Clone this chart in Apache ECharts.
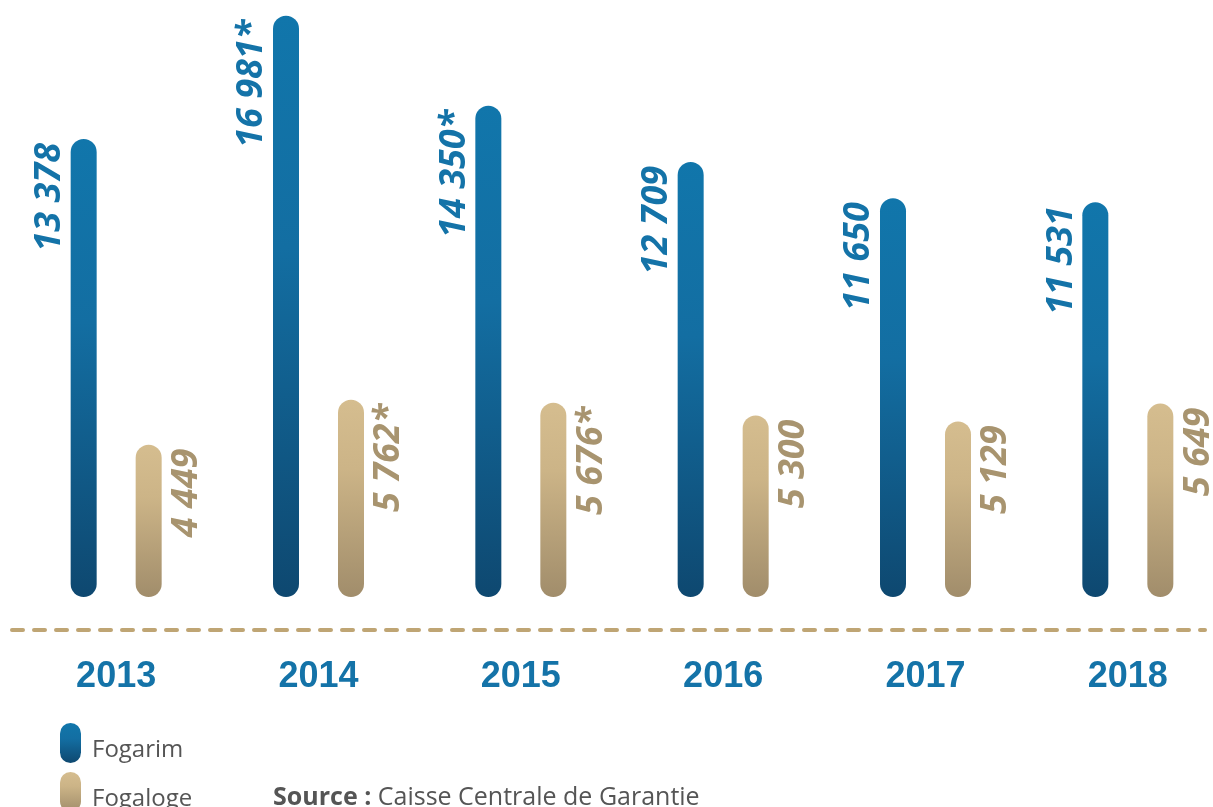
<!DOCTYPE html>
<html>
<head>
<meta charset="utf-8">
<script src="https://cdn.jsdelivr.net/npm/echarts@6/dist/echarts.min.js"></script>
<style>
html,body{margin:0;padding:0;background:#fff;}
#c{width:1213px;height:807px;}
</style>
</head>
<body>
<div id="c"></div>
<script>
const years = ['2013', '2014', '2015', '2016', '2017', '2018'];
const fogarim = [13378, 16981, 14350, 12709, 11650, 11531];
const fogaloge = [4449, 5762, 5676, 5300, 5129, 5649];
const fogarimNotes = ['', '*', '*', '', '', ''];
const fogalogeNotes = ['', '*', '*', '', '', ''];
const seriesNames = ['Fogarim', 'Fogaloge'];
const sourceLabel = 'Source :';
const sourceText = ' Caisse Centrale de Garantie';

const BLUE = '#1473A8';
const GOLD = '#A8946F';
const fmt = v => String(v).replace(/\B(?=(\d{3})+(?!\d))/g, ' ');

const blueGrad = new echarts.graphic.LinearGradient(0, 0, 0, 1, [
  {offset: 0, color: '#1176AB'},
  {offset: 0.4, color: '#136EA2'},
  {offset: 1, color: '#0E4870'}
]);
const goldGrad = new echarts.graphic.LinearGradient(0, 0, 0, 1, [
  {offset: 0, color: '#D5BD8F'},
  {offset: 0.35, color: '#CCB487'},
  {offset: 1, color: '#A18D6B'}
]);

const chart = echarts.init(document.getElementById('c'), null, {renderer: 'canvas'});
const pill = 'path://M0,10.5A10.5,10.5,0,0,1,21,10.5L21,29.5A10.5,10.5,0,0,1,0,29.5Z';
const legendBase = {
  orient: 'vertical',
  itemWidth: 21, itemHeight: 40, itemGap: 9,
  icon: pill,
  formatter: '{a|{name}}',
  textStyle: {
    color: '#555555', fontSize: 24, fontFamily: 'Open Sans',
    rich: {a: {color: '#555555', fontSize: 24, fontFamily: 'Open Sans', padding: [14, 0, 0, 6]}}
  }
};

chart.setOption({
  animation: false,
  backgroundColor: '#ffffff',
  grid: {left: 15, width: 1214, top: 15, height: 582, containLabel: false, outerBoundsMode: 'none'},
  legend: [
    Object.assign({left: 55, top: 718, data: [seriesNames[0]]}, legendBase),
    Object.assign({left: 55, top: 767, data: [seriesNames[1]]}, legendBase)
  ],
  title: {
    left: 268, top: 780,
    text: '{b|' + sourceLabel + '}{r|' + sourceText + '}',
    textStyle: {
      rich: {
        b: {fontFamily: 'Open Sans', fontWeight: 'bold', fontSize: 25, color: '#555555'},
        r: {fontFamily: 'Open Sans', fontWeight: 'normal', fontSize: 25, color: '#555555'}
      }
    }
  },
  xAxis: {
    type: 'category',
    data: years,
    axisLine: {show: false},
    axisTick: {show: false},
    axisLabel: {margin: 62, color: BLUE, fontFamily: 'Liberation Sans', fontWeight: 'bold', fontSize: 36}
  },
  yAxis: {type: 'value', min: 0, max: 17000, show: false, splitLine: {show: false}},
  graphic: [{
    type: 'line',
    shape: {x1: 12, y1: 630, x2: 1205, y2: 630},
    style: {stroke: '#BFA574', lineWidth: 4, lineDash: [11, 11], lineCap: 'round'},
    silent: true
  }],
  series: [
    {
      name: seriesNames[0], type: 'bar', data: fogarim,
      barWidth: 26, barGap: '150%',
      itemStyle: {color: blueGrad, borderRadius: 13},
      label: {
        show: true, rotate: 90, position: [-3, 4], align: 'right', verticalAlign: 'bottom',
        color: BLUE, fontFamily: 'Open Sans', fontWeight: 'bold', fontStyle: 'italic', fontSize: 36,
        formatter: p => fmt(p.value) + fogarimNotes[p.dataIndex]
      }
    },
    {
      name: seriesNames[1], type: 'bar', data: fogaloge,
      barWidth: 26, barGap: '150%',
      itemStyle: {color: goldGrad, borderRadius: 13},
      label: {
        show: true, rotate: 90, position: [33, 4], align: 'right', verticalAlign: 'top',
        color: GOLD, fontFamily: 'Open Sans', fontWeight: 'bold', fontStyle: 'italic', fontSize: 36,
        formatter: p => fmt(p.value) + fogalogeNotes[p.dataIndex]
      }
    }
  ]
});
</script>
</body>
</html>
